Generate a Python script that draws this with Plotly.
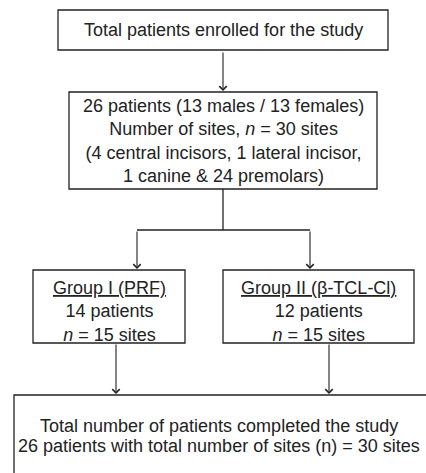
import plotly.graph_objects as go

# ---- content ----
box_texts = [
    "Total patients enrolled for the study",
    "26 patients (13 males / 13 females)<br>Number of sites, <i>n</i> = 30 sites<br>(4 central incisors, 1 lateral incisor,<br>1 canine &amp; 24 premolars)",
    "<u>Group I (PRF)</u><br>14 patients<br><i>n</i> = 15 sites",
    "<u>Group II (β-TCL-Cl)</u><br>12 patients<br><i>n</i> = 15 sites",
    "Total number of patients completed the study",
    "26 patients with total number of sites (n) = 30 sites",
]

# ---- layout geometry (pixels, y downward) ----
W, H = 426, 473
boxes = [  # x0, x1, y0, y1
    (58, 388, 10, 50),
    (69, 377, 92, 189),
    (33, 185, 270, 343),
    (223, 414, 270, 343),
    (14, 440, 395, 490),
]
text_centers = [(223, 30), (223, 141), (109, 311), (318, 311), (219, 426), (219, 446)]
line_color = "#222222"
font = dict(family="Liberation Sans, Arial, sans-serif", size=18, color="#222222")

fig = go.Figure()
shapes = []
for (x0, x1, y0, y1) in boxes:
    shapes.append(dict(type="rect", xref="x", yref="y", x0=x0, x1=x1, y0=y0, y1=y1,
                       line=dict(color=line_color, width=1.3), fillcolor="white", layer="below"))
# connectors (plain lines)
shapes.append(dict(type="line", xref="x", yref="y", x0=223, x1=223, y0=189, y1=230,
                   line=dict(color=line_color, width=1.3)))
shapes.append(dict(type="line", xref="x", yref="y", x0=137, x1=310, y0=230, y1=230,
                   line=dict(color=line_color, width=1.3)))

annotations = []
for t, (cx, cy) in zip(box_texts, text_centers):
    annotations.append(dict(x=cx, y=cy, xref="x", yref="y", text=t, showarrow=False,
                            font=font, align="center", xanchor="center", yanchor="middle"))

# arrows: (x, y_start, y_end)
arrows = [(223, 51, 91), (137, 230, 269), (310, 230, 269), (116, 343, 394), (329, 343, 394)]
for (x, ys, ye) in arrows:
    annotations.append(dict(x=x, y=ye, ax=x, ay=ys, xref="x", yref="y", axref="x", ayref="y",
                            text="", showarrow=True, arrowhead=4, arrowsize=1.3, arrowwidth=1.1,
                            arrowcolor=line_color, standoff=0))

fig.update_layout(
    width=W, height=H, margin=dict(l=0, r=0, t=0, b=0),
    paper_bgcolor="white", plot_bgcolor="white",
    xaxis=dict(range=[0, W], visible=False, fixedrange=True),
    yaxis=dict(range=[H, 0], visible=False, fixedrange=True),
    shapes=shapes, annotations=annotations, showlegend=False,
)
fig.write_html("out.html", config={"displayModeBar": False},
               post_script="document.body.style.margin='0';document.body.style.overflow='hidden';")
